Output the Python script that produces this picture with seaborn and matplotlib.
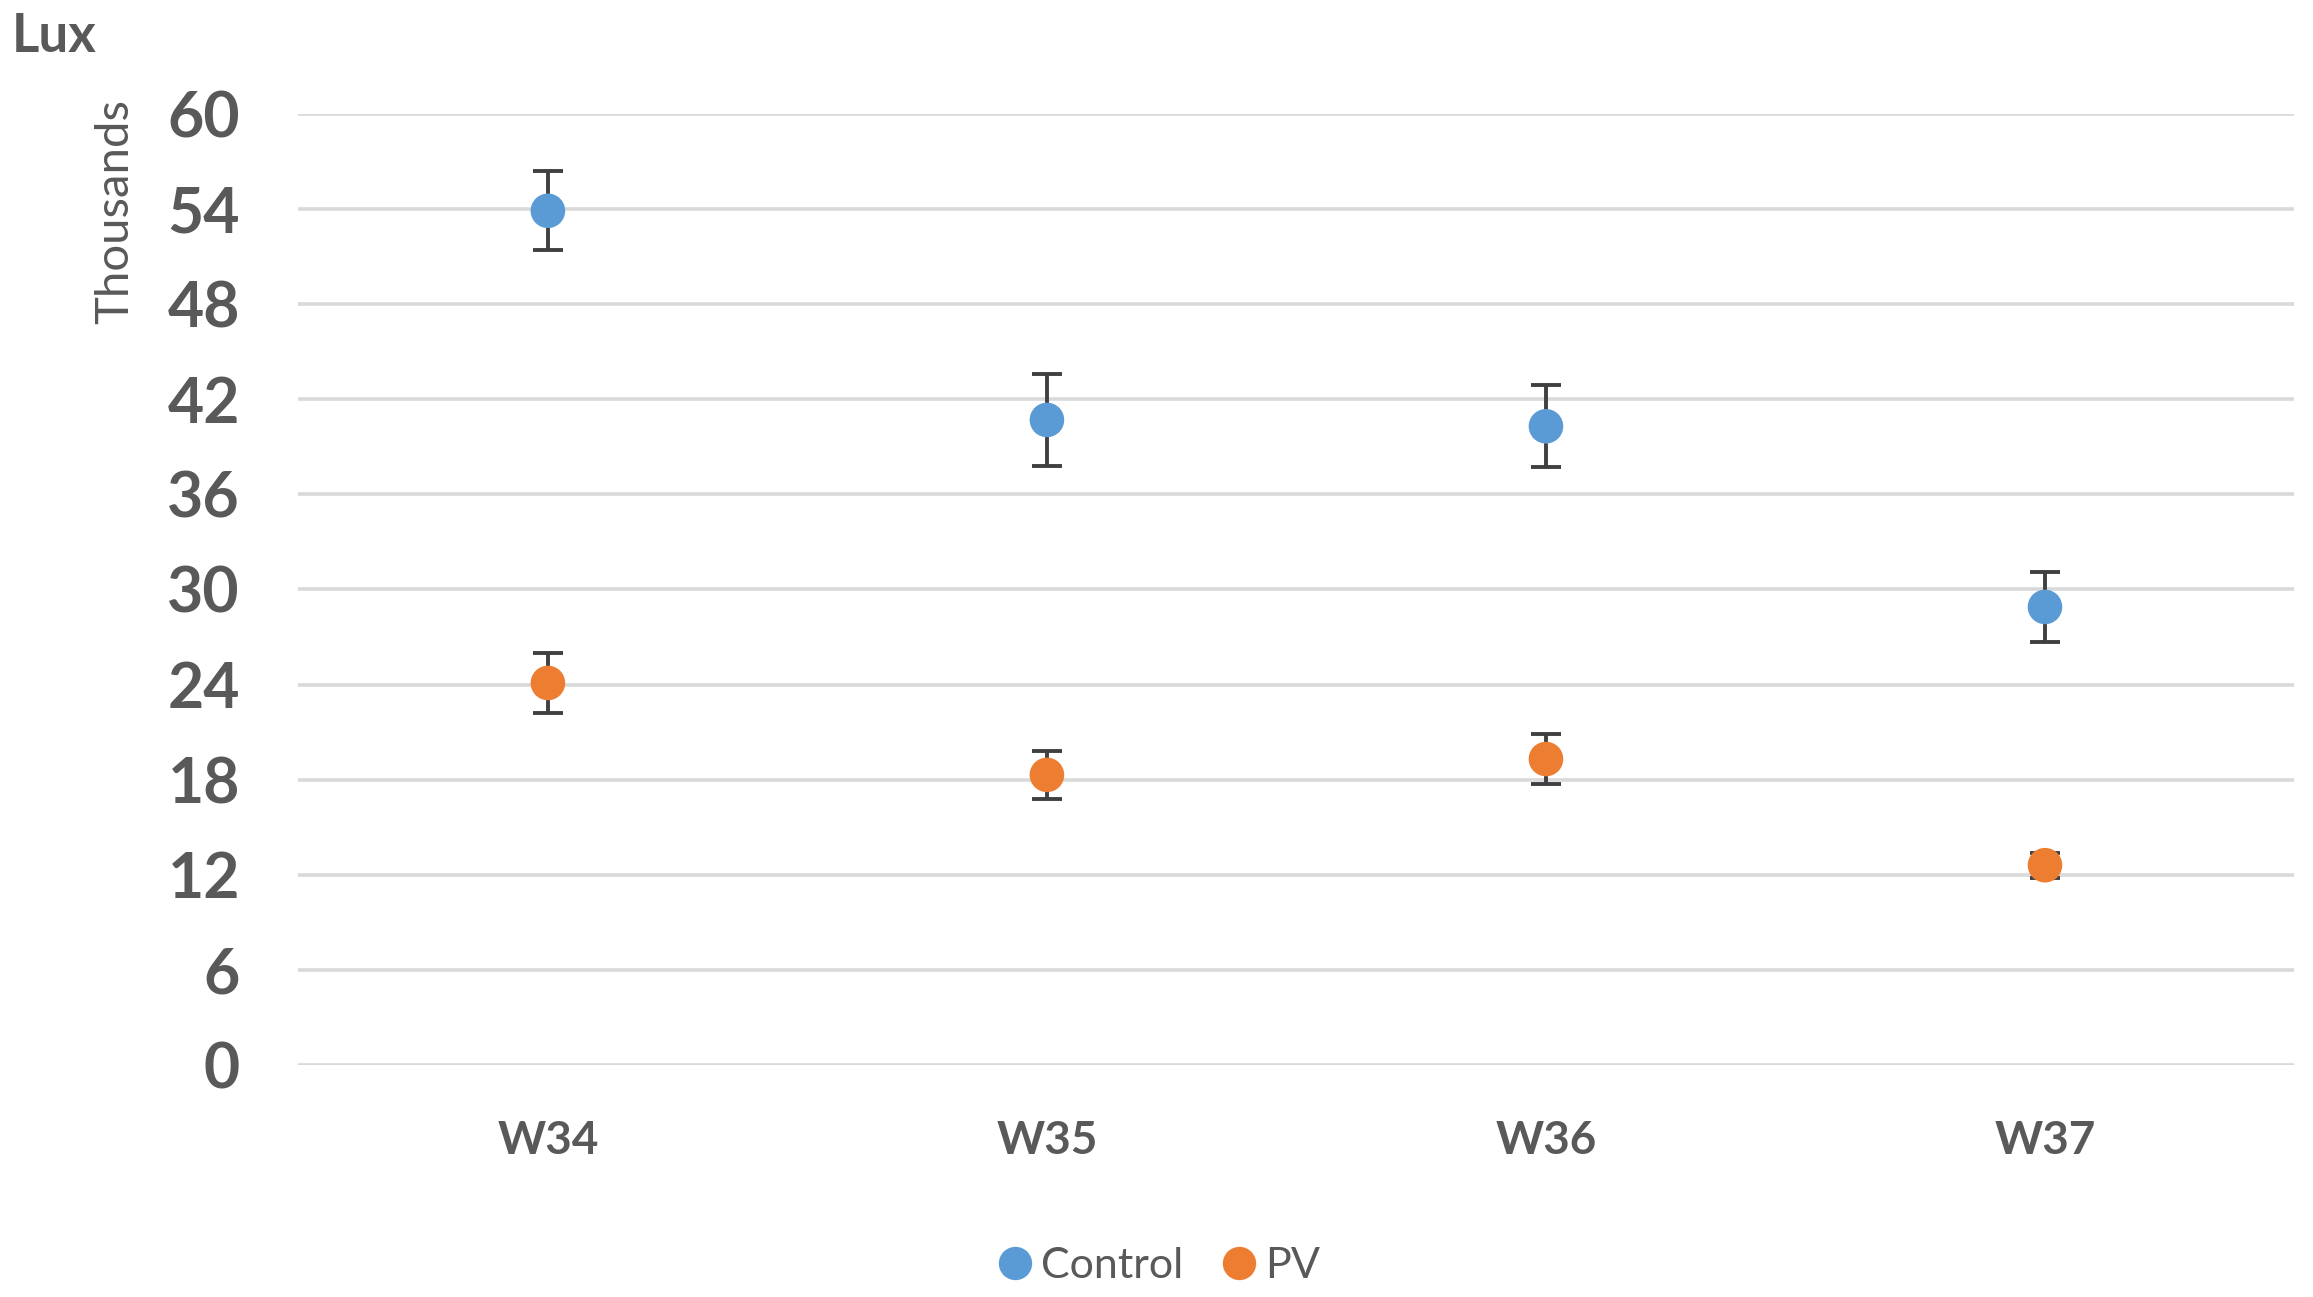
import pandas as pd
import numpy as np
import seaborn as sns
import matplotlib.pyplot as plt
from matplotlib.lines import Line2D

# data (thousands of lux)
weeks = ["W34", "W35", "W36", "W37"]
control_mean = [53.9, 40.7, 40.3, 28.9]
control_err = [2.5, 2.9, 2.6, 2.2]
pv_mean = [24.1, 18.3, 19.3, 12.6]
pv_err = [1.9, 1.5, 1.6, 0.8]

series = ["Control", "PV"]
colors = {"Control": "#5B9BD5", "PV": "#ED7D31"}

df = pd.concat([
    pd.DataFrame({"week": weeks, "lux": control_mean, "err": control_err, "group": "Control"}),
    pd.DataFrame({"week": weeks, "lux": pv_mean, "err": pv_err, "group": "PV"}),
], ignore_index=True)

sns.set_style("white")
plt.rcParams["font.family"] = ["Lato", "DejaVu Sans"]
txt = "#595959"

fig = plt.figure(figsize=(23.13, 12.97), dpi=100)
ax = fig.add_axes([0.129, 0.179, 0.863, 0.733])

# error bars behind the markers
for g in series:
    sub = df[df.group == g]
    xpos = [weeks.index(w) for w in sub.week]
    ax.errorbar(xpos, sub.lux, yerr=sub.err, fmt="none", ecolor="#404040",
                elinewidth=2.8, capsize=11, capthick=2.8, zorder=2)

sns.scatterplot(data=df, x="week", y="lux", hue="group", palette=colors,
                s=620, edgecolor="none", legend=False, ax=ax, zorder=3)

ax.set_xlim(-0.5, len(weeks) - 0.5)
ax.set_ylim(0, 60)
ax.set_yticks(np.arange(0, 61, 6))
ax.yaxis.grid(True, color="#D9D9D9", linewidth=2.6)
ax.set_axisbelow(True)
for s in ax.spines.values():
    s.set_visible(False)

ax.tick_params(axis="y", length=0, pad=42, labelsize=45, labelcolor=txt)
ax.tick_params(axis="x", length=0, pad=40, labelsize=33, labelcolor=txt)
for lab in ax.get_yticklabels() + ax.get_xticklabels():
    lab.set_fontweight("bold")
ax.set_xlabel("")
ax.set_ylabel("")

fig.text(0.005, 0.972, "Lux", fontsize=38, fontweight="bold", color=txt,
         ha="left", va="center")
fig.text(0.050, 0.837, "Thousands", fontsize=34, color=txt, rotation=90,
         ha="center", va="center")

handles = [Line2D([], [], marker="o", linestyle="none", markersize=24,
                  markerfacecolor=colors[g], markeredgecolor="none") for g in series]
fig.legend(handles, series, loc="center", bbox_to_anchor=(0.5, 0.024), ncol=2,
           frameon=False, fontsize=31, labelcolor=txt, handletextpad=0.1,
           columnspacing=0.8, handlelength=1.0)

fig.savefig("out.png", dpi=100)
